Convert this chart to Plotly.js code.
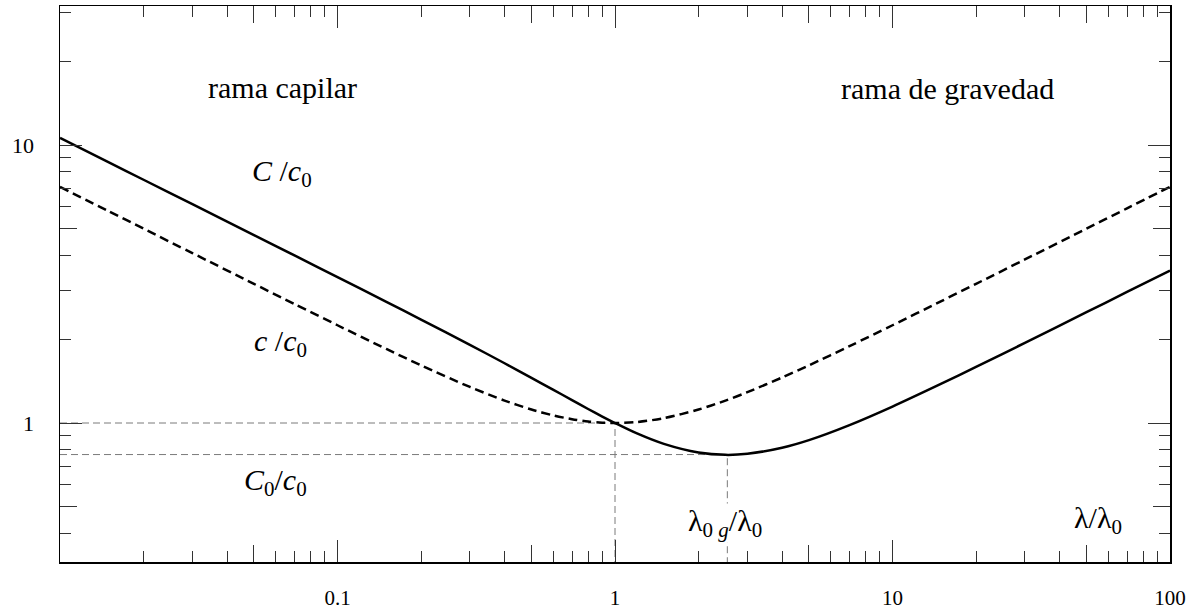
<!DOCTYPE html>
<html>
<head>
<meta charset="utf-8">
<script src="https://cdn.plot.ly/plotly-3.0.1.min.js"></script>
<style>
  html, body { margin: 0; padding: 0; background: #fff; }
  #chart { width: 1200px; height: 614px; }
</style>
</head>
<body>
<div id="chart"></div>
<script>
// wavelength ratio lambda/lambda0
const lambdaRatio = [0.01, 0.015, 0.02, 0.03, 0.05, 0.07, 0.1, 0.15, 0.2, 0.3, 0.4, 0.5, 0.6, 0.7, 0.8, 0.9, 1,
                     1.2, 1.5, 2, 2.5, 3, 4, 5, 7, 10, 15, 20, 30, 50, 70, 100];
// phase speed c/c0 (dashed)
const phaseSpeed = [7.071, 5.774, 5.001, 4.084, 3.166, 2.679, 2.247, 1.846, 1.612, 1.348, 1.204, 1.118, 1.065, 1.032, 1.012, 1.003, 1.0,
                    1.008, 1.041, 1.118, 1.204, 1.291, 1.458, 1.612, 1.890, 2.247, 2.745, 3.166, 3.875, 5.001, 5.917, 7.071];
// group speed C/c0 (solid)
const groupSpeed = [10.606, 8.660, 7.499, 6.122, 4.741, 4.005, 3.348, 2.728, 2.356, 1.911, 1.640, 1.453, 1.316, 1.209, 1.123, 1.055, 1.0,
                    0.917, 0.841, 0.783, 0.768, 0.775, 0.815, 0.868, 0.983, 1.146, 1.385, 1.591, 1.942, 2.503, 2.960, 3.536];

// reference points
const unitRatio = 1;
const unitSpeed = 1;
const lambdaMin = 2.54;     // lambda_0g / lambda_0
const groupMin = 0.77;      // C_0 / c_0
const xLeft = 0.01;
const yBottom = 0.3;

// tick values / labels
const xMajorVals = [0.1, 1, 10, 100];
const xMajorText = ['0.1', '1', '10', '100'];
const xMidVals = [0.05, 0.5, 5, 50];
const xMinorVals = [0.02, 0.03, 0.04, 0.06, 0.07, 0.08, 0.09,
                    0.2, 0.3, 0.4, 0.6, 0.7, 0.8, 0.9,
                    2, 3, 4, 6, 7, 8, 9,
                    20, 30, 40, 60, 70, 80, 90];
const yMajorVals = [1, 10];
const yMajorText = ['1', '10'];
const yMidVals = [0.5, 5];
const yMinorVals = [0.4, 0.6, 0.7, 0.8, 0.9, 2, 3, 4, 6, 7, 8, 9, 20, 30];

const refStyle = {color: '#7a7a7a', width: 1, dash: '7px,4px'};

const traces = [
  {x: [xLeft, unitRatio, unitRatio], y: [unitSpeed, unitSpeed, yBottom], mode: 'lines',
   line: refStyle, hoverinfo: 'skip', showlegend: false, cliponaxis: true},
  {x: [xLeft, lambdaMin, lambdaMin], y: [groupMin, groupMin, yBottom], mode: 'lines',
   line: refStyle, hoverinfo: 'skip', showlegend: false, cliponaxis: true},
  {x: lambdaRatio, y: phaseSpeed, mode: 'lines',
   line: {color: '#000', width: 2.5, dash: '9px,5px', shape: 'spline', smoothing: 0.8},
   showlegend: false},
  {x: lambdaRatio, y: groupSpeed, mode: 'lines',
   line: {color: '#000', width: 2.5, shape: 'spline', smoothing: 0.8},
   showlegend: false},
  {x: [], y: [], xaxis: 'x2', yaxis: 'y2', mode: 'lines', showlegend: false, hoverinfo: 'skip'}
];

const serif = '"Liberation Serif", "Times New Roman", serif';
const axisCommon = {
  type: 'log', showgrid: false, zeroline: false,
  showline: true, linecolor: '#000', linewidth: 1.5,
  ticks: 'inside', tickcolor: '#333', tickwidth: 1,
  mirror: 'allticks',
  tickfont: {family: serif, size: 21, color: '#000'}
};

const layout = {
  width: 1200, height: 614,
  margin: {l: 60, r: 30, t: 6, b: 52},
  paper_bgcolor: '#fff', plot_bgcolor: '#fff',
  font: {family: serif, color: '#000'},
  showlegend: false,
  xaxis: Object.assign({}, axisCommon, {
    range: [-2, 2], tickmode: 'array', tickvals: xMajorVals, ticktext: xMajorText,
    ticklen: 22, ticklabelstandoff: 16,
    minor: {tickmode: 'array', tickvals: xMinorVals, ticklen: 11, ticks: 'inside', tickcolor: '#333', tickwidth: 1}
  }),
  yaxis: Object.assign({}, axisCommon, {
    range: [-0.5, 1.5], tickmode: 'array', tickvals: yMajorVals, ticktext: yMajorText,
    ticklen: 22, ticklabelstandoff: 20, tickfont: {family: serif, size: 22, color: '#000'},
    minor: {tickmode: 'array', tickvals: yMinorVals, ticklen: 11, ticks: 'inside', tickcolor: '#333', tickwidth: 1}
  }),
  xaxis2: Object.assign({}, axisCommon, {
    overlaying: 'x', anchor: 'y', side: 'bottom',
    range: [-2, 2], tickmode: 'array', tickvals: xMidVals, ticklen: 17, showticklabels: false
  }),
  yaxis2: Object.assign({}, axisCommon, {
    overlaying: 'y', anchor: 'x', side: 'left',
    range: [-0.5, 1.5], tickmode: 'array', tickvals: yMidVals, ticklen: 17, showticklabels: false
  }),
  annotations: [
    {text: 'rama capilar', xref: 'paper', yref: 'paper', x: 0.2009, y: 0.8543,
     xanchor: 'center', yanchor: 'middle', showarrow: false, font: {family: serif, size: 30}},
    {text: 'rama de gravedad', xref: 'paper', yref: 'paper', x: 0.7991, y: 0.8525,
     xanchor: 'center', yanchor: 'middle', showarrow: false, font: {family: serif, size: 30}},
    {text: '<i>C</i> /<i>c</i><sub>0</sub>', xref: 'paper', yref: 'paper', x: 0.1712, y: 0.6996,
     xanchor: 'left', yanchor: 'middle', showarrow: false, font: {family: serif, size: 30}},
    {text: '<i>c</i> /<i>c</i><sub>0</sub>', xref: 'paper', yref: 'paper', x: 0.1730, y: 0.3939,
     xanchor: 'left', yanchor: 'middle', showarrow: false, font: {family: serif, size: 30}},
    {text: '<i>C</i><sub>0</sub>/<i>c</i><sub>0</sub>', xref: 'paper', yref: 'paper', x: 0.164, y: 0.1439,
     xanchor: 'left', yanchor: 'middle', showarrow: false, font: {family: serif, size: 30}},
    {text: 'λ<sub>0 <i>g</i></sub>/λ<sub>0</sub>', xref: 'paper', yref: 'paper', x: 0.5649, y: 0.0701,
     xanchor: 'left', yanchor: 'middle', showarrow: false, bgcolor: '#fff', borderpad: 0,
     font: {family: serif, size: 30}},
    {text: 'λ/λ<sub>0</sub>', xref: 'paper', yref: 'paper', x: 0.9117, y: 0.0755,
     xanchor: 'left', yanchor: 'middle', showarrow: false, font: {family: serif, size: 30}}
  ]
};

Plotly.newPlot('chart', traces, layout, {staticPlot: true, displayModeBar: false});
</script>
</body>
</html>
